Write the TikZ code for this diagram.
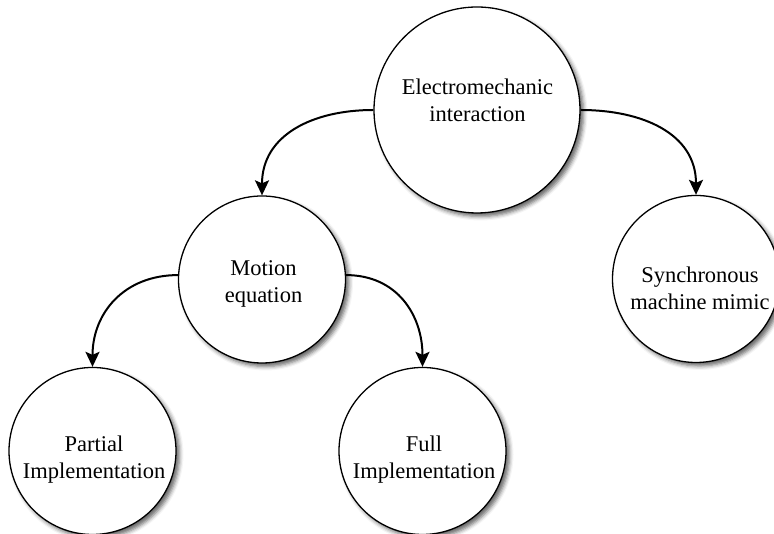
\documentclass[tikz,border=0pt]{standalone}
\usepackage{fontspec}
\setmainfont{Liberation Serif}
\usetikzlibrary{arrows.meta,shadows.blur}

\begin{document}
\begin{tikzpicture}[x=1pt,y=1pt,
  bubble/.style={circle, draw, line width=1.3pt, fill=white, minimum size=#1,
    inner sep=0pt,
    blur shadow={shadow xshift=3.5pt, shadow yshift=-3.5pt,
      shadow blur radius=4pt, shadow opacity=60}},
  caption/.style={align=center, inner sep=0pt,
    font=\fontsize{22.5}{26.5}\selectfont},
  link/.style={line width=2pt, looseness=1.1,
    -{Stealth[length=15pt,width=14pt,inset=3pt]}}
]
\useasboundingbox (0,0) rectangle (774,534);

% circles
\node[bubble=206pt] (em) at (477,424) {};
\node[bubble=167pt] (mo) at (262,254.5) {};
\node[bubble=167pt] (sy) at (696,255) {};
\node[bubble=167pt] (pa) at (92.5,83) {};
\node[bubble=167pt] (fu) at (422.5,83) {};

% captions
\node[caption] (emt) at (477.5,431.5) {\strut Electromechanic\\\strut interaction};
\node[caption] (mot) at (263.5,250.2) {\strut Motion\\\strut equation};
\node[caption] (syt) at (700,243.5) {\strut Synchronous\\\strut machine mimic};
\node[caption] (pat) at (94,74.2) {\strut Partial\\\strut Implementation};
\node[caption] (fut) at (424,74.2) {\strut Full\\\strut Implementation};

% connectors
\draw[link] (em.west) to[out=180,in=90] (mo.north);
\draw[link] (em.east) to[out=0,in=90] (sy.north);
\draw[link] (mo.177) to[out=180,in=90] (pa.north);
\draw[link] (mo.3) to[out=0,in=90] (fu.north);
\end{tikzpicture}
\end{document}
